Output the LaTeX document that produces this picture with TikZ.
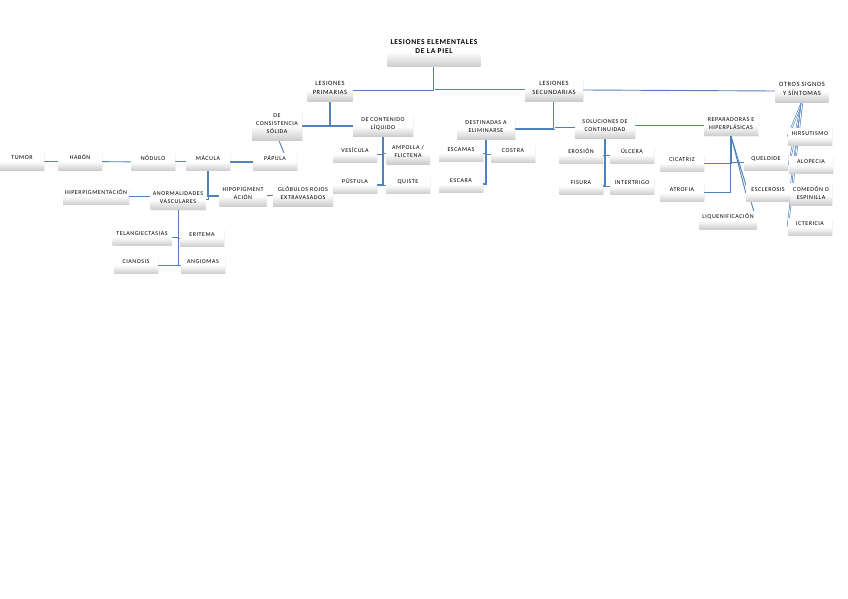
\documentclass[tikz,border=0pt]{standalone}
\usepackage{fontspec}
\setmainfont{Carlito}[LetterSpace=9]
\usetikzlibrary{shadows}
\pgfdeclarelayer{fondo}
\pgfsetlayers{fondo,main}

\begin{document}
\begin{tikzpicture}[x=1pt, y=-1pt,
    caja/.style={top color=white, bottom color=black!20, middle color=white,
        drop shadow={shadow xshift=0.6pt, shadow yshift=-0.6pt, opacity=0.1},
        inner xsep=2pt, inner ysep=2.5pt, minimum width=44pt, align=center,
        text=black, font=\fontsize{6}{8}\selectfont},
    hoja/.style={caja, text height=4.5pt, text depth=8pt},
    rama/.style={caja, text depth=4pt},
    enlace/.style={linea, line width=0.9pt},
    doble/.style={linea, line width=0.6pt, double=white, double distance=0.8pt},
    grueso/.style={linea, line width=2.4pt}]

    % Colores
    \definecolor{linea}{RGB}{79, 129, 189}   % Azul de conectores

    \useasboundingbox (0,0) rectangle (848,599);

    % Raiz y primer nivel
    \node[rama, font=\fontsize{7.5}{9}\selectfont\bfseries, minimum width=93pt, text depth=10pt] (lesiones) at (434,52) {LESIONES ELEMENTALES\\DE LA PIEL};
    \node[rama, font=\fontsize{6.5}{9}\selectfont, minimum width=45pt] (primarias) at (330,90) {LESIONES\\PRIMARIAS};
    \node[rama, font=\fontsize{6.5}{9}\selectfont, minimum width=58pt] (secundarias) at (554,90) {LESIONES\\SECUNDARIAS};
    \node[rama, font=\fontsize{6.5}{9}\selectfont, minimum width=53pt] (otros) at (802,91) {OTROS SIGNOS\\Y SÍNTOMAS};

    % Segundo nivel
    \node[rama, minimum width=50pt] (solida) at (277,126) {DE\\CONSISTENCIA\\SÓLIDA};
    \node[rama, minimum width=60pt] (liquido) at (383,126) {DE CONTENIDO\\LÍQUIDO};
    \node[rama, minimum width=58pt] (eliminar) at (486,129) {DESTINADAS A\\ELIMINARSE};
    \node[rama, minimum width=60pt] (continuidad) at (605,128) {SOLUCIONES DE\\CONTINUIDAD};
    \node[rama, minimum width=54pt] (reparadoras) at (731,125.5) {REPARADORAS E\\HIPERPLÁSICAS};

    % Lesiones solidas
    \node[hoja] (tumor) at (22,161.5) {TUMOR};
    \node[hoja] (habon) at (80,161.5) {HABÓN};
    \node[hoja] (nodulo) at (153,162) {NÓDULO};
    \node[hoja] (macula) at (208,162) {MÁCULA};
    \node[hoja] (papula) at (275,162) {PÁPULA};
    \node[rama, minimum width=47pt] (hipopig) at (243,196) {HIPOPIGMENT\\ACIÓN};
    \node[rama, minimum width=60pt] (globulos) at (303,195) {GLÓBULOS ROJOS\\EXTRAVASADOS};
    \node[rama, minimum width=55pt] (anormal) at (178,199.5) {ANORMALIDADES\\VASCULARES};
    \node[hoja, minimum width=65pt] (hiperpig) at (96,196) {HIPERPIGMENTACIÓN};
    \node[hoja, minimum width=59pt] (telang) at (142,237) {TELANGIECTASIAS};
    \node[hoja] (eritema) at (202,238) {ERITEMA};
    \node[hoja] (cianosis) at (136,265) {CIANOSIS};
    \node[hoja] (angiomas) at (203,265) {ANGIOMAS};

    % Contenido liquido
    \node[hoja] (vesicula) at (355,154) {VESÍCULA};
    \node[rama, minimum width=43pt] (ampolla) at (408,153.5) {AMPOLLA /\\FLICTENA};
    \node[hoja] (pustula) at (355,185) {PÚSTULA};
    \node[hoja] (quiste) at (408,185) {QUISTE};

    % Destinadas a eliminarse
    \node[hoja] (escamas) at (461,153) {ESCAMAS};
    \node[hoja] (costra) at (513,154) {COSTRA};
    \node[hoja] (escara) at (461,184) {ESCARA};

    % Soluciones de continuidad
    \node[hoja] (erosion) at (581,155) {EROSIÓN};
    \node[hoja] (ulcera) at (632,155) {ÚLCERA};
    \node[hoja] (fisura) at (581,186) {FISURA};
    \node[hoja] (intertrigo) at (632,186) {INTERTRIGO};

    % Reparadoras
    \node[hoja] (cicatriz) at (682,163) {CICATRIZ};
    \node[hoja] (atrofia) at (682,193) {ATROFIA};
    \node[hoja] (queloide) at (766,162) {QUELOIDE};
    \node[hoja] (esclerosis) at (768,193) {ESCLEROSIS};
    \node[hoja, minimum width=57pt] (liquen) at (728,220.5) {LIQUENIFICACIÓN};

    % Otros signos
    \node[hoja] (hirsutismo) at (810,137) {HIRSUTISMO};
    \node[hoja] (alopecia) at (811,165) {ALOPECIA};
    \node[rama, minimum width=42pt] (comedon) at (811,194.5) {COMEDÓN O\\ESPINILLA};
    \node[hoja] (ictericia) at (810,227) {ICTERICIA};

    % Conectores por debajo de las cajas
    \begin{pgfonlayer}{fondo}
        \draw[enlace] (lesiones.south) |- (primarias.east);
        \draw[doble] (lesiones.south) |- (secundarias.west);
        \draw[enlace] (secundarias.east) -- (otros.west);

        \draw[enlace, line width=1.3pt] (primarias.south) |- (solida.east);
        \draw[enlace, line width=1.3pt] (primarias.south) |- (liquido.west);
        \draw[enlace, line width=1.3pt] (secundarias.south) |- (eliminar.east);
        \draw[doble] (secundarias.south) |- (continuidad.west);
        \draw[enlace] (reparadoras.west -| continuidad.east) -- (reparadoras.west);

        \draw[enlace] (tumor) -- (habon);
        \draw[enlace] (habon) -- (nodulo);
        \draw[doble] (nodulo) -- (macula);
        \draw[grueso] (macula) -- (papula);
        \draw[enlace] ([xshift=9pt]papula.north) -- ([xshift=2pt]solida.south);
        \draw[enlace, line width=1.6pt] (macula.south) |- (hipopig.west);
        \draw[enlace] (macula.south) |- (anormal.east);
        \draw[enlace] (hipopig) -- (globulos);
        \draw[enlace] (hiperpig.east) -- (hiperpig.east -| anormal.west);
        \draw[enlace] (anormal.south) |- (cianosis.east);
        \draw[enlace] (anormal.south) |- (telang.east);
        \draw[enlace] (anormal.south) |- (eritema.west);
        \draw[enlace] (anormal.south) |- (angiomas.west);

        \draw[enlace, line width=2pt] (liquido.south) |- (pustula.east);
        \draw[enlace] (liquido.south) |- (vesicula.east);
        \draw[enlace] (liquido.south) |- (ampolla.west);
        \draw[enlace] (liquido.south) |- (quiste.west);

        \draw[enlace, line width=1.3pt] (eliminar.south) |- (escara.east);
        \draw[enlace] (eliminar.south) |- (costra.west);
        \draw[enlace] (eliminar.south) |- (escamas.east);

        \draw[enlace, line width=1.3pt] (continuidad.south) |- (fisura.east);
        \draw[enlace] (continuidad.south) |- (intertrigo.west);
        \draw[enlace] (continuidad.south) |- (erosion.east);
        \draw[enlace] (continuidad.south) |- (ulcera.west);

        \draw[doble] (reparadoras.south) |- (atrofia.east);
        \draw[enlace] (reparadoras.south) |- (cicatriz.east);
        \draw[enlace] (reparadoras.south) |- (queloide.west);
        \draw[enlace] (reparadoras.south) -- (esclerosis.west);
        \draw[enlace] (reparadoras.south) -- (liquen.east);

        \foreach \signo in {hirsutismo, alopecia, comedon, ictericia}
            \draw[doble] (otros.south) -- (\signo.west);
    \end{pgfonlayer}

\end{tikzpicture}
\end{document}
